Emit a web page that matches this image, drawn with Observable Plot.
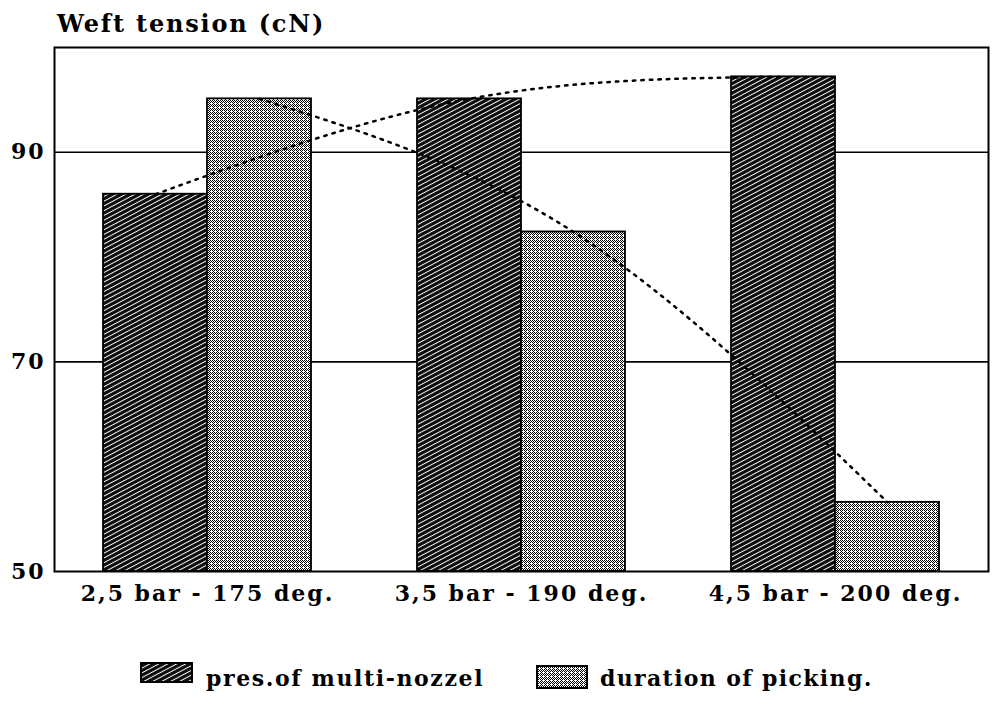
<!DOCTYPE html>
<html>
<head>
<meta charset="utf-8">
<script src="https://cdn.jsdelivr.net/npm/d3@7"></script>
<script src="https://cdn.jsdelivr.net/npm/@observablehq/plot@0.6"></script>
<style>
  html, body { margin: 0; padding: 0; background: #fff; }
  body { width: 996px; height: 706px; position: relative; overflow: hidden; font-family: "DejaVu Serif", serif; color: #000; }
  #title { position: absolute; left: 57px; top: 12px; font-size: 24px; line-height: 24px; letter-spacing: 1.8px; font-weight: bold; white-space: nowrap; }
  #chart { position: absolute; left: 0; top: 40px; }
  .sw { position: absolute; display: block; }
  .lt { position: absolute; font-size: 22px; line-height: 22px; font-weight: bold; white-space: nowrap; }
</style>
</head>
<body>
<div id="title">Weft tension (cN)</div>
<div id="chart"></div>
<div id="legend"></div>
<script>
// ---- data ----
const categories = ["2,5 bar - 175 deg.", "3,5 bar - 190 deg.", "4,5 bar - 200 deg."];
const seriesNames = ["pres.of multi-nozzel", "duration of picking."];
const pressureValues = [86.0, 95.1, 97.2];
const durationValues = [95.1, 82.4, 56.6];
const yTicks = [50, 70, 90];
const gridValues = [70, 90];
const yDomain = [50, 100];

const pressure = categories.map((c, i) => ({category: c, value: pressureValues[i]}));
const duration = categories.map((c, i) => ({category: c, value: durationValues[i]}));

const chart = Plot.plot({
  width: 996,
  height: 580,
  marginLeft: 54,
  marginRight: 8,
  marginTop: 7,
  marginBottom: 49,
  style: {fontFamily: "DejaVu Serif, serif", fontWeight: "bold", fontSize: "22px", letterSpacing: "2px", color: "#000", background: "#fff", overflow: "visible"},
  x: {domain: categories, paddingInner: 0.3376, paddingOuter: 0.156, tickSize: 0, tickPadding: 14, label: null},
  y: {domain: yDomain, ticks: yTicks, tickSize: 0, tickPadding: 9, label: null},
  marks: [
    Plot.ruleY(gridValues, {stroke: "#000", strokeWidth: 1.6}),
    Plot.barY(pressure, {x: "category", y1: () => yDomain[0], y2: "value", fill: "url(#hatch)", stroke: "#000", strokeWidth: 1.8, insetRight: 104}),
    Plot.barY(duration, {x: "category", y1: () => yDomain[0], y2: "value", fill: "url(#stipple)", stroke: "#000", strokeWidth: 1.8, insetLeft: 104}),
    Plot.line(pressure, {x: "category", y: "value", curve: "natural", stroke: "#000", strokeWidth: 2.5, strokeDasharray: "2.5,6", dx: -52}),
    Plot.line(duration, {x: "category", y: "value", curve: "natural", stroke: "#000", strokeWidth: 2.5, strokeDasharray: "2.5,6", dx: 52}),
    Plot.frame({stroke: "#000", strokeWidth: 2})
  ]
});
document.getElementById("chart").appendChild(chart);

// ---- fill patterns ----
const svg = d3.select(chart);
const defs = svg.insert("defs", ":first-child");
const hatch = defs.append("pattern")
  .attr("id", "hatch").attr("patternUnits", "userSpaceOnUse")
  .attr("width", 8).attr("height", 4.2).attr("patternTransform", "rotate(-28)");
hatch.append("rect").attr("width", 8).attr("height", 4.2).attr("fill", "#0a0a0a");
hatch.append("rect").attr("y", 1.6).attr("width", 8).attr("height", 1.0).attr("fill", "#fff");

const stipple = defs.append("pattern")
  .attr("id", "stipple").attr("patternUnits", "userSpaceOnUse")
  .attr("width", 4).attr("height", 4);
stipple.append("rect").attr("width", 4).attr("height", 4).attr("fill", "#fff");
[[0,0],[2,0],[1,1],[3,1],[0,2],[2,2],[1,3]].forEach(([px, py]) =>
  stipple.append("rect").attr("x", px).attr("y", py).attr("width", 1).attr("height", 1)
    .attr("fill", "#000").attr("shape-rendering", "crispEdges"));

// ---- legend ----
const legend = d3.select("#legend");
const legendFills = ["url(#hatch)", "url(#stipple)"];
const swatchBox = [[140, 662, 53, 21], [536, 665, 52, 24]];
const textPos = [[206, 667, "1.6px"], [600, 667, "1.35px"]];
seriesNames.forEach((name, i) => {
  const [sx, sy, sw, sh] = swatchBox[i];
  const s = legend.append("svg").attr("class", "sw").attr("width", sw).attr("height", sh)
    .style("left", sx + "px").style("top", sy + "px");
  s.append("rect").attr("x", 1).attr("y", 1).attr("width", sw - 2).attr("height", sh - 2)
    .attr("fill", legendFills[i]).attr("stroke", "#000").attr("stroke-width", 2);
  legend.append("div").attr("class", "lt")
    .style("left", textPos[i][0] + "px").style("top", textPos[i][1] + "px")
    .style("letter-spacing", textPos[i][2]).text(name);
});
</script>
</body>
</html>
